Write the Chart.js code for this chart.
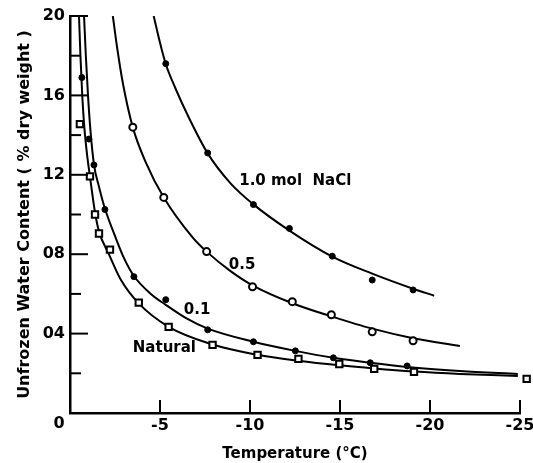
<!DOCTYPE html>
<html>
<head>
<meta charset="utf-8">
<script src="https://cdn.jsdelivr.net/npm/chart.js@4.4.1/dist/chart.umd.min.js"></script>
<style>
  html, body { margin: 0; padding: 0; background: #fff; }
</style>
</head>
<body>
<canvas id="waterChart" width="533" height="463"></canvas>
<script>

// DATA ########################################################################
// temperature in degrees C, unfrozen water content as a fraction of dry weight

// 1.0 mol NaCl (filled circles)
var naclOneTemp  = [-5.32, -7.65, -10.19, -12.19, -14.57, -16.79, -19.06];
var naclOneWater = [0.176, 0.131, 0.105, 0.093, 0.079, 0.067, 0.062];
var naclOneCurveTemp  = [-4.65, -4.99, -5.32, -5.88, -6.54, -7.65, -8.92, -10.19, -12.19, -14.57, -16.79, -19.06, -20.23];
var naclOneCurveWater = [0.200, 0.1869, 0.1758, 0.1631, 0.150, 0.1308, 0.1157, 0.1051, 0.0919, 0.0788, 0.0702, 0.0626, 0.0591];

// 0.5 mol (open circles)
var naclHalfTemp  = [-3.49, -5.21, -7.59, -10.14, -12.35, -14.52, -16.79, -19.06];
var naclHalfWater = [0.144, 0.1086, 0.0813, 0.0636, 0.0561, 0.0495, 0.0409, 0.0364];
var naclHalfCurveTemp  = [-2.38, -2.62, -2.94, -3.49, -4.21, -5.21, -6.81, -7.59, -8.92, -10.14, -12.35, -14.52, -16.79, -19.06, -21.66];
var naclHalfCurveWater = [0.200, 0.184, 0.166, 0.1439, 0.1263, 0.1086, 0.0885, 0.0813, 0.0715, 0.0643, 0.0553, 0.0487, 0.0425, 0.0377, 0.0338];

// 0.1 mol (filled circles)
var naclTenthTemp  = [-0.66, -1.05, -1.33, -1.94, -3.55, -5.32, -7.65, -10.19, -12.52, -14.63, -16.68, -18.73];
var naclTenthWater = [0.169, 0.138, 0.125, 0.1025, 0.0687, 0.0571, 0.0419, 0.0359, 0.0313, 0.0278, 0.0253, 0.0237];
var naclTenthCurveTemp  = [-0.78, -0.88, -1.00, -1.13, -1.33, -1.61, -1.94, -2.55, -3.00, -3.55, -4.49, -5.32, -6.50, -7.65, -10.19, -12.52, -14.63, -16.68, -18.73, -21.66, -24.88];
var naclTenthCurveWater = [0.200, 0.180, 0.160, 0.143, 0.1253, 0.114, 0.103, 0.088, 0.078, 0.069, 0.060, 0.0545, 0.0475, 0.0425, 0.0359, 0.0313, 0.0278, 0.0253, 0.0232, 0.0212, 0.0197];

// Natural (open squares)
var naturalTemp  = [-0.55, -1.11, -1.39, -1.61, -2.22, -3.82, -5.48, -7.92, -10.42, -12.69, -14.96, -16.90, -19.11, -25.37];
var naturalWater = [0.1455, 0.1192, 0.100, 0.0904, 0.0823, 0.0556, 0.0434, 0.0343, 0.0293, 0.0273, 0.0247, 0.0222, 0.0207, 0.0172];
var naturalCurveTemp  = [-0.50, -0.58, -0.68, -0.80, -0.95, -1.11, -1.39, -1.61, -2.16, -2.80, -3.82, -5.48, -7.92, -10.42, -12.69, -14.96, -16.90, -19.11, -21.66, -24.88];
var naturalCurveWater = [0.200, 0.180, 0.160, 0.1435, 0.130, 0.119, 0.101, 0.0915, 0.080, 0.0675, 0.0552, 0.0434, 0.0345, 0.0293, 0.0263, 0.0240, 0.0224, 0.0209, 0.0197, 0.0187];

// tick labels
var xTickValues = [-5, -10, -15, -20, -25];
var xTickLabels = ["-5", "-10", "-15", "-20", "-25"];
var yTickValues = [0.04, 0.08, 0.12, 0.16, 0.20];
var yTickLabels = ["04", "08", "12", "16", "20"];

// labels written next to the curves
var curveLabels = [
    { text: "1.0 mol  NaCl", temp: -9.4,  water: 0.117 },
    { text: "0.5",           temp: -8.82, water: 0.0747 },
    { text: "0.1",           temp: -6.32, water: 0.052 },
    { text: "Natural",       temp: -3.49, water: 0.0328 }
];


// HELPERS #####################################################################

var BOLD = '"DejaVu Sans", sans-serif';

function toPoints(xs, ys) {
    return xs.map(function (x, i) { return { x: x, y: ys[i] }; });
}

function lookupLabel(value, values, labels) {
    for (var i = 0; i < values.length; i++) {
        if (Math.abs(values[i] - value) < 1e-6) {
            return labels[i];
        }
    }
    return "";
}

function curve(xs, ys) {
    return {
        data: toPoints(xs, ys),
        showLine: true,
        borderColor: "#000",
        borderWidth: 2,
        pointRadius: 0,
        cubicInterpolationMode: "monotone",
        order: 2
    };
}

function marks(xs, ys, style, filled, radius) {
    return {
        data: toPoints(xs, ys),
        showLine: false,
        pointStyle: style,
        pointRadius: radius,
        pointBackgroundColor: filled ? "#000" : "#fff",
        pointBorderColor: "#000",
        pointBorderWidth: filled ? 1 : 2,
        clip: false,
        order: 1
    };
}


// PLUGINS #####################################################################

// tick marks point into the plot, as on the original figure
var inwardTicks = {
    id: "inwardTicks",
    afterDraw: function (chart) {
        var ctx = chart.ctx;
        var xs = chart.scales.x;
        var ys = chart.scales.y;
        var area = chart.chartArea;
        ctx.save();
        ctx.strokeStyle = "#000";
        ctx.lineWidth = 2;
        ys.ticks.forEach(function (t) {
            var n = Math.round(t.value * 100);
            if (n === 0) {
                return;
            }
            var len = (n % 4 === 0) ? 18 : 11;
            var py = ys.getPixelForValue(t.value);
            ctx.beginPath();
            ctx.moveTo(area.left, py);
            ctx.lineTo(area.left + len, py);
            ctx.stroke();
        });
        xs.ticks.forEach(function (t) {
            if (t.value === 0) {
                return;
            }
            var px = xs.getPixelForValue(t.value);
            ctx.beginPath();
            ctx.moveTo(px, area.bottom);
            ctx.lineTo(px, area.bottom - 13);
            ctx.stroke();
        });
        // single "0" shared by both axes at the corner
        ctx.fillStyle = "#000";
        ctx.font = "bold 16px " + BOLD;
        ctx.textAlign = "center";
        ctx.textBaseline = "middle";
        ctx.fillText("0", xs.getPixelForValue(0) - 11, area.bottom + 11);
        ctx.restore();
    }
};

// the last Natural reading sits just past -25, outside the axis range;
// chart.js skips points outside the chart area, so draw those here
var outsidePoints = {
    id: "outsidePoints",
    afterDatasetsDraw: function (chart) {
        var area = chart.chartArea;
        var wide = { left: -1e4, top: -1e4, right: 1e4, bottom: 1e4 };
        chart.data.datasets.forEach(function (ds, i) {
            if (ds.showLine) {
                return;
            }
            chart.getDatasetMeta(i).data.forEach(function (pt) {
                if (pt.x > area.right + 2 || pt.x < area.left - 2) {
                    pt.draw(chart.ctx, wide);
                }
            });
        });
    }
};

var curveText = {
    id: "curveText",
    afterDraw: function (chart) {
        var ctx = chart.ctx;
        var xs = chart.scales.x;
        var ys = chart.scales.y;
        ctx.save();
        ctx.fillStyle = "#000";
        ctx.font = "bold 15px " + BOLD;
        ctx.textAlign = "left";
        ctx.textBaseline = "middle";
        curveLabels.forEach(function (l) {
            ctx.fillText(l.text, xs.getPixelForValue(l.temp), ys.getPixelForValue(l.water));
        });
        ctx.restore();
    }
};


// CHART #######################################################################

var myWaterChart = new Chart(document.getElementById("waterChart"), {
    type: "scatter",
    data: {
        datasets: [
            marks(naclOneTemp, naclOneWater, "circle", true, 3),
            marks(naclHalfTemp, naclHalfWater, "circle", false, 3.5),
            marks(naclTenthTemp, naclTenthWater, "circle", true, 3),
            marks(naturalTemp, naturalWater, "rect", false, 4.5),
            curve(naclOneCurveTemp, naclOneCurveWater),
            curve(naclHalfCurveTemp, naclHalfCurveWater),
            curve(naclTenthCurveTemp, naclTenthCurveWater),
            curve(naturalCurveTemp, naturalCurveWater)
        ]
    },
    options: {
        responsive: false,
        animation: false,
        layout: { padding: { top: 16, right: 13, left: 0, bottom: 0 } },
        plugins: {
            legend: { display: false },
            tooltip: { enabled: false }
        },
        scales: {
            x: {
                type: "linear",
                min: -25,
                max: 0,
                reverse: true,
                grid: { display: false, drawTicks: false },
                border: { display: true, color: "#000", width: 2.5 },
                ticks: {
                    stepSize: 5,
                    autoSkip: false,
                    maxRotation: 0,
                    padding: 3,
                    color: "#000",
                    font: { family: BOLD, size: 16, weight: "bold" },
                    callback: function (v) { return lookupLabel(v, xTickValues, xTickLabels); }
                },
                title: {
                    display: true,
                    text: "Temperature (°C)",
                    color: "#000",
                    font: { family: BOLD, size: 15, weight: "bold" },
                    padding: { top: 2, bottom: 0 }
                },
                afterFit: function (scale) {
                    scale.height = 50;
                    scale.paddingLeft = 0;
                    scale.paddingRight = 0;
                }
            },
            y: {
                type: "linear",
                min: 0,
                max: 0.2,
                grid: { display: false, drawTicks: false },
                border: { display: true, color: "#000", width: 2.5 },
                ticks: {
                    stepSize: 0.02,
                    autoSkip: false,
                    padding: 5,
                    color: "#000",
                    font: { family: BOLD, size: 16, weight: "bold" },
                    callback: function (v) { return lookupLabel(v, yTickValues, yTickLabels); }
                },
                title: {
                    display: true,
                    text: "Unfrozen Water Content ( % dry weight )",
                    color: "#000",
                    font: { family: BOLD, size: 16, weight: "bold" },
                    padding: { top: 15, bottom: 0 }
                },
                afterFit: function (scale) { scale.width = 70; }
            }
        }
    },
    plugins: [inwardTicks, outsidePoints, curveText]
});
</script>
</body>
</html>
